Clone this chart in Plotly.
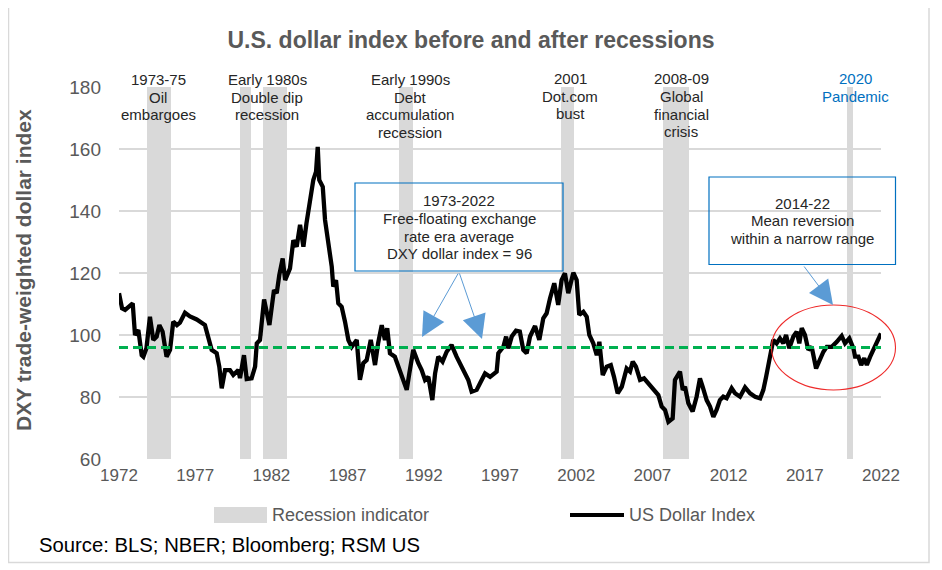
import plotly.graph_objects as go

# ---------------- data ----------------
years = [1972.00, 1972.20, 1972.40, 1972.90, 1973.05, 1973.27, 1973.49, 1973.60, 1973.80, 1974.03,
         1974.25, 1974.47, 1974.65, 1974.86, 1975.12, 1975.35, 1975.56, 1975.80, 1976.00, 1976.33,
         1976.66, 1977.10, 1977.64, 1977.86, 1978.08, 1978.41, 1978.58, 1978.74, 1978.96, 1979.28,
         1979.50, 1979.83, 1979.94, 1980.20, 1980.38, 1980.70, 1980.93, 1981.04, 1981.25, 1981.52,
         1981.87, 1982.17, 1982.35, 1982.52, 1982.74, 1982.90, 1983.22, 1983.44, 1983.66, 1983.88,
         1984.10, 1984.30, 1984.53, 1984.75, 1984.93, 1985.04, 1985.14, 1985.37, 1985.52, 1985.73,
         1985.96, 1986.06, 1986.24, 1986.39, 1986.61, 1986.83, 1987.05, 1987.27, 1987.60, 1987.81,
         1988.03, 1988.25, 1988.52, 1988.80, 1989.00, 1989.24, 1989.45, 1989.60, 1989.78, 1990.10,
         1990.33, 1990.55, 1990.88, 1991.05, 1991.31, 1991.64, 1991.86, 1992.08, 1992.30, 1992.56,
         1992.74, 1992.95, 1993.23, 1993.50, 1993.82, 1994.15, 1994.48, 1994.70, 1994.92, 1995.14,
         1995.47, 1995.69, 1996.02, 1996.35, 1996.78, 1996.89, 1997.22, 1997.40, 1997.55, 1997.77,
         1998.05, 1998.30, 1998.53, 1998.75, 1998.97, 1999.30, 1999.58, 1999.84, 2000.06, 2000.28,
         2000.56, 2000.82, 2001.04, 2001.26, 2001.48, 2001.81, 2002.03, 2002.20, 2002.47, 2002.69,
         2002.86, 2003.12, 2003.35, 2003.52, 2003.74, 2004.00, 2004.27, 2004.48, 2004.72, 2004.99,
         2005.31, 2005.53, 2005.71, 2005.92, 2006.19, 2006.45, 2006.73, 2007.06, 2007.39, 2007.61,
         2007.83, 2008.05, 2008.33, 2008.48, 2008.70, 2008.81, 2008.99, 2009.14, 2009.36, 2009.64,
         2009.90, 2010.12, 2010.30, 2010.56, 2010.78, 2011.00, 2011.21, 2011.43, 2011.65, 2011.87,
         2012.20, 2012.42, 2012.75, 2013.08, 2013.41, 2013.74, 2014.07, 2014.28, 2014.46, 2014.67,
         2014.83, 2014.93, 2015.15, 2015.37, 2015.59, 2015.77, 2015.98, 2016.25, 2016.47, 2016.64,
         2016.80, 2017.01, 2017.23, 2017.45, 2017.74, 2017.96, 2018.22, 2018.44, 2018.77, 2019.10,
         2019.42, 2019.64, 2019.92, 2020.19, 2020.30, 2020.52, 2020.70, 2020.90, 2021.07, 2021.29,
         2021.60, 2021.90, 2022.00]
dollar_index = [113.5, 108.6, 108.1, 110.2, 100.0, 101.6, 93.5, 93.0, 95.7, 105.9,
                98.4, 99.5, 103.2, 101.1, 93.0, 95.2, 104.3, 103.2, 104.0, 107.2,
                106.0, 105.0, 103.2, 99.5, 95.2, 94.1, 89.8, 82.8, 88.7, 88.7,
                87.1, 88.7, 86.1, 93.5, 85.8, 86.0, 89.8, 97.3, 98.4, 111.5,
                103.2, 114.5, 113.5, 119.4, 124.7, 117.7, 121.5, 130.6, 128.5, 135.5,
                128.5, 136.0, 143.5, 150.0, 152.7, 160.7, 150.0, 147.8, 137.1, 130.6,
                122.0, 115.6, 117.7, 110.2, 109.1, 104.3, 98.4, 96.2, 98.4, 85.5,
                90.9, 91.9, 98.4, 90.3, 97.3, 103.2, 98.4, 102.2, 94.1, 93.0,
                89.8, 86.5, 82.3, 87.6, 95.2, 90.9, 88.7, 85.5, 86.5, 79.0,
                87.6, 93.0, 91.4, 94.6, 96.8, 93.0, 89.8, 87.6, 85.5, 81.7,
                82.3, 84.4, 87.6, 86.5, 88.2, 94.1, 96.2, 99.5, 95.7, 99.5,
                101.4, 101.1, 95.2, 94.1, 99.5, 102.9, 98.4, 105.4, 107.0, 111.8,
                116.7, 109.7, 117.7, 119.9, 113.5, 120.1, 117.7, 106.5, 107.5, 105.9,
                100.0, 97.3, 93.5, 97.8, 87.1, 89.8, 90.3, 86.5, 81.2, 83.3,
                89.2, 88.2, 91.4, 89.8, 85.5, 86.0, 84.4, 82.8, 80.6, 76.9,
                75.8, 72.0, 73.1, 85.5, 87.1, 88.2, 82.3, 83.3, 78.0, 75.3,
                80.1, 86.0, 83.3, 79.0, 76.9, 73.6, 75.8, 79.0, 80.1, 79.6,
                82.8, 81.2, 80.1, 83.1, 81.2, 80.1, 79.6, 82.3, 86.5, 92.0,
                95.2, 98.4, 97.3, 98.9, 97.3, 100.0, 95.7, 99.5, 101.1, 97.3,
                102.2, 100.0, 95.2, 96.2, 89.2, 92.0, 94.6, 96.2, 96.2, 97.8,
                99.7, 97.3, 98.9, 95.7, 93.0, 93.0, 90.3, 92.5, 90.3, 93.0,
                96.2, 100.0, 100.5]

recession_start = [1973.84, 1979.94, 1981.45, 1990.37, 2001.00, 2007.70, 2019.77]
recession_end = [1975.40, 1980.66, 1983.00, 1991.27, 2001.86, 2009.38, 2020.14]

era_average = 96
average_span = [1972, 2022]

x_ticks = [1972, 1977, 1982, 1987, 1992, 1997, 2002, 2007, 2012, 2017, 2022]
y_ticks = [60, 80, 100, 120, 140, 160, 180]
y_range = [60, 180]

title_text = "U.S. dollar index before and after recessions"
y_title = "DXY trade-weighted dollar index"
source_text = "Source: BLS; NBER; Bloomberg; RSM US"

# ---------------- geometry helpers (pixel -> paper) ----------------
W, H = 942, 570
OFF = 8  # page body margin of the html page
L, R, T, B = 119, 881, 87, 459


def px(x):
    return (x - L) / (R - L)


def py(y):
    return (B - y) / (B - T)


FONT = "Arial, Liberation Sans, sans-serif"
GRAY_TXT = "#595959"
DARK_TXT = "#262626"
BLUE = "#0070c0"
ARROW = "#5b9bd5"

fig = go.Figure()

# recession bands
centers = [(s + e) / 2 for s, e in zip(recession_start, recession_end)]
widths = [e - s for s, e in zip(recession_start, recession_end)]
fig.add_trace(go.Bar(
    x=centers, y=[y_range[1] - y_range[0]] * len(centers), base=y_range[0],
    width=widths, marker=dict(color="#d9d9d9", line=dict(width=0)),
    name="Recession indicator", showlegend=False, hoverinfo="skip"))

# dollar index
fig.add_trace(go.Scatter(
    x=years, y=dollar_index, mode="lines", name="US Dollar Index",
    line=dict(color="#000000", width=4.3), showlegend=False))

# average line
fig.add_trace(go.Scatter(
    x=average_span, y=[era_average, era_average], mode="lines",
    line=dict(color="#00b050", width=3, dash="9px,5px"), showlegend=False,
    hoverinfo="skip"))

annotations = []
shapes = []


def add_lines(lines, cx, ys, color=DARK_TXT, size=15):
    for t, yy in zip(lines, ys):
        annotations.append(dict(
            text=t, x=px(cx), y=py(yy), xref="paper", yref="paper",
            xanchor="center", yanchor="middle", showarrow=False,
            font=dict(family=FONT, size=size, color=color)))


ys4 = [79.5, 97.2, 114.8, 132.4]
add_lines(["1973-75", "Oil", "embargoes"], 158, ys4)
add_lines(["Early 1980s", "Double dip", "recession"], 267, ys4)
add_lines(["Early 1990s", "Debt", "accumulation", "recession"], 410, ys4)
add_lines(["2001", "Dot.com", "bust"], 570, [78, 96, 113.5])
add_lines(["2008-09", "Global", "financial", "crisis"], 681, [78.5, 96.5, 114.2, 131.8])
add_lines(["2020", "Pandemic"], 855, [78, 96], color=BLUE)

# text boxes
add_lines(["1973-2022", "Free-floating exchange", "rate era average",
           "DXY dollar index = 96"], 459, [200, 218, 236, 253.5])
shapes.append(dict(type="rect", xref="paper", yref="paper",
                   x0=px(355), x1=px(563), y0=py(271), y1=py(183),
                   line=dict(color=BLUE, width=1.2), fillcolor="rgba(0,0,0,0)"))
add_lines(["2014-22", "Mean reversion", "within a narrow range"], 802, [203, 220.5, 238.5])
shapes.append(dict(type="rect", xref="paper", yref="paper",
                   x0=px(709), x1=px(895.5), y0=py(264.5), y1=py(177),
                   line=dict(color=BLUE, width=1.2), fillcolor="rgba(0,0,0,0)"))

# arrows
for (tx, ty, sx, sy) in [(422, 337, 459, 272), (482, 339, 459, 272), (833, 305, 803, 265)]:
    annotations.append(dict(
        text="", x=px(tx), y=py(ty), xref="paper", yref="paper",
        ax=sx - tx, ay=sy - ty, axref="pixel", ayref="pixel",
        showarrow=True, arrowhead=2, arrowsize=4.8, arrowwidth=1,
        arrowcolor=ARROW, standoff=0, startstandoff=0))

# red ellipse
shapes.append(dict(type="circle", xref="paper", yref="paper",
                   x0=px(771.5), x1=px(895.5), y0=py(390), y1=py(305),
                   line=dict(color="#ee2a2a", width=1.1)))

# y axis title
annotations.append(dict(
    text="<b>" + y_title + "</b>", x=px(23), y=py(270), xref="paper", yref="paper",
    xanchor="center", yanchor="middle", textangle=-90, showarrow=False,
    font=dict(family=FONT, size=21, color=GRAY_TXT)))

# legend (manual)
shapes.append(dict(type="rect", xref="paper", yref="paper",
                   x0=px(214), x1=px(267), y0=py(523), y1=py(507),
                   fillcolor="#d9d9d9", line=dict(width=0)))
annotations.append(dict(
    text="Recession indicator", x=px(270), y=py(515), xref="paper", yref="paper",
    xanchor="left", yanchor="middle", showarrow=False,
    font=dict(family=FONT, size=18, color=GRAY_TXT)))
shapes.append(dict(type="line", xref="paper", yref="paper",
                   x0=px(570), x1=px(624), y0=py(515), y1=py(515),
                   line=dict(color="#000000", width=4)))
annotations.append(dict(
    text="US Dollar Index", x=px(627), y=py(515), xref="paper", yref="paper",
    xanchor="left", yanchor="middle", showarrow=False,
    font=dict(family=FONT, size=18, color=GRAY_TXT)))

# source
annotations.append(dict(
    text=source_text, x=px(37), y=py(545), xref="paper", yref="paper",
    xanchor="left", yanchor="middle", showarrow=False,
    font=dict(family=FONT, size=20.3, color="#000000")))

# outer border
shapes.append(dict(type="rect", xref="paper", yref="paper",
                   x0=px(8.5), x1=px(929), y0=py(562.5), y1=py(7),
                   line=dict(color="#d9d9d9", width=1.5), fillcolor="rgba(0,0,0,0)",
                   layer="below"))

fig.update_layout(
    width=W, height=H,
    margin=dict(l=L - OFF, r=W - R + OFF, t=T - OFF, b=H - B + OFF, pad=0),
    paper_bgcolor="white", plot_bgcolor="white",
    title=dict(text="<b>" + title_text + "</b>", x=(471 - OFF) / W, xref="container",
               xanchor="center", y=1 - (40 - OFF) / H, yref="container", yanchor="middle",
               font=dict(family=FONT, size=23, color=GRAY_TXT)),
    bargap=0, barmode="overlay",
    annotations=annotations, shapes=shapes,
    showlegend=False,
)
fig.update_xaxes(range=[1972, 2022], tickvals=x_ticks, ticktext=[str(v) for v in x_ticks],
                 showgrid=False, zeroline=False, showline=False, ticks="",
                 tickfont=dict(family=FONT, size=17, color=GRAY_TXT), ticklabelstandoff=4)
fig.update_yaxes(range=y_range, tickvals=y_ticks, showgrid=True, gridcolor="#d9d9d9",
                 gridwidth=2, zeroline=False, showline=False, ticks="",
                 tickfont=dict(family=FONT, size=19, color=GRAY_TXT), ticklabelstandoff=17)

fig.write_html("out.html")
